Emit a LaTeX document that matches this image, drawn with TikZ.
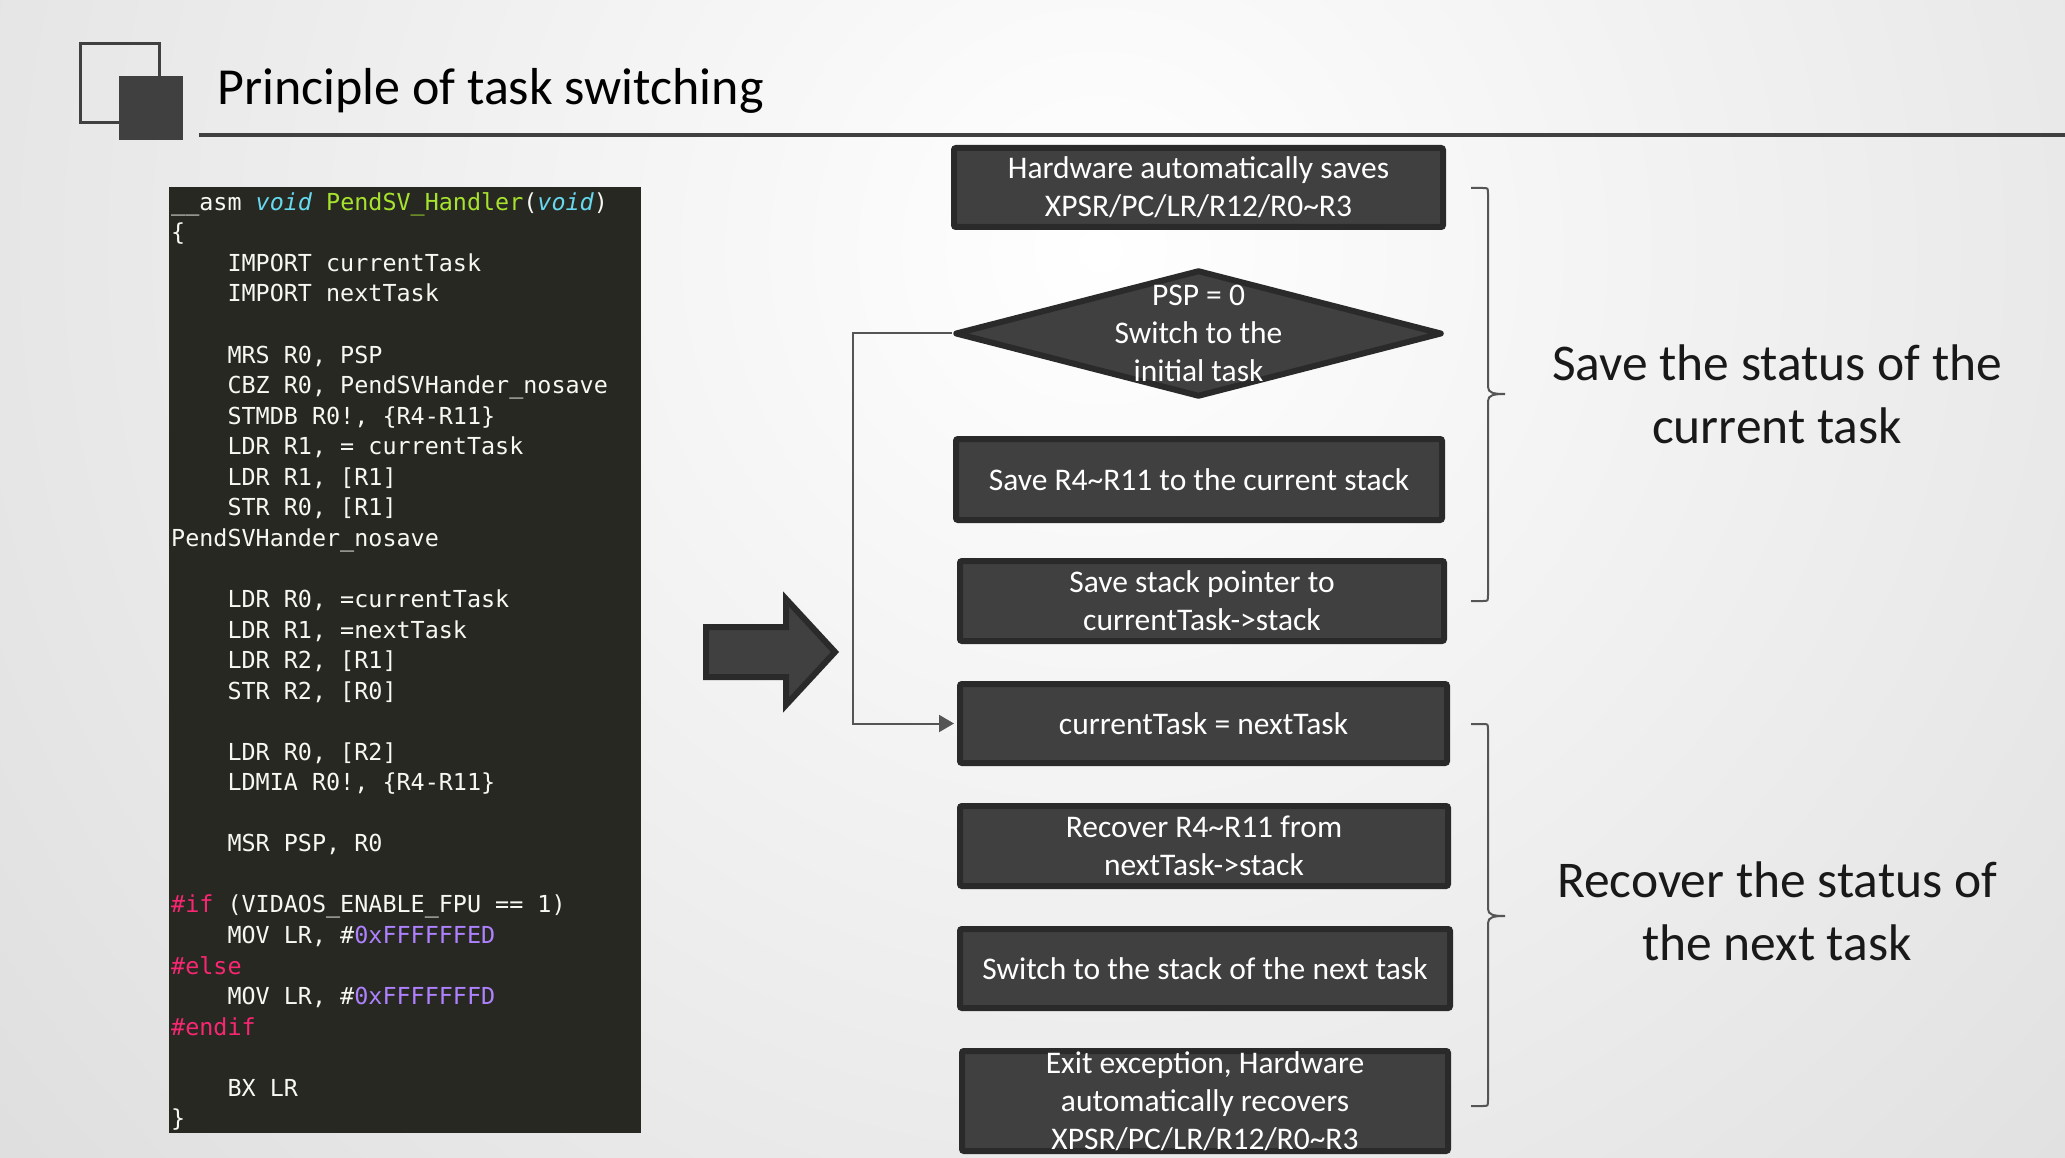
\documentclass[tikz,border=0pt]{standalone}
\usepackage{fontspec}
\setmainfont{Carlito}
\newfontfamily\codefont{DejaVu Sans Mono}
\usepackage{xcolor}
\usetikzlibrary{positioning, arrows.meta, shapes.geometric}

\definecolor{slate}{HTML}{404040}
\definecolor{rim}{HTML}{2A2A2A}
\definecolor{wire}{HTML}{555555}
\definecolor{monobg}{HTML}{272822}
\definecolor{monotxt}{HTML}{F8F8F2}
\definecolor{monokw}{HTML}{66D9EF}
\definecolor{monofn}{HTML}{A6E22E}
\definecolor{monopp}{HTML}{F92672}
\definecolor{mononum}{HTML}{AE81FF}

\newcommand{\ind}{\hphantom{0000}}

\begin{document}
\begin{tikzpicture}[x=1pt,y=-1pt,>=Stealth,
  stepbox/.style={draw=rim,fill=slate,line width=6pt,rounded corners=2pt,
        minimum width=489pt,minimum height=79pt,inner sep=0pt,
        text=white,align=center,font=\fontsize{31.5}{38}\selectfont},
  decision/.style={diamond,draw=rim,fill=slate,line width=6pt,line join=round,
        minimum width=487pt,minimum height=127pt,inner sep=0pt},
  lbl/.style={text=white,align=center,inner sep=0pt,
        font=\fontsize{31.5}{38}\selectfont},
  codetxt/.style={text=monotxt,align=left,inner sep=0pt,
        font=\codefont\fontsize{23.4}{30.55}\selectfont\frenchspacing},
  sidetxt/.style={align=center,inner sep=0pt,text=black!90,
        font=\fontsize{51.5}{63}\selectfont},
  curly/.style={draw=wire,line width=2pt},
  link/.style={draw=wire,line width=2pt,-{Triangle[length=15pt,width=17pt]}}]
  \useasboundingbox (0,0) rectangle (2065,1158);
  % backdrop
  \begin{scope}
    \clip (0,0) rectangle (2065,1158);
    \shade[inner color=white,outer color=black!24] (1100,250) circle[radius=2700pt];
  \end{scope}
  % heading
  \draw[slate,line width=3pt] (80.5,43.5) rectangle (159.5,122.5);
  \fill[slate] (119,76) rectangle (183,140);
  \draw[slate,line width=4pt] (199,135) -- (2065,135);
  \node[anchor=base west,inner sep=0pt,font=\fontsize{52}{62}\selectfont]
       (title) at (217,105) {Principle of task switching};
  % code listing
  \node[fill=monobg,minimum width=472pt,minimum height=946pt,inner sep=0pt]
       (panel) at (405,660) {};
  \node[codetxt,anchor=north west] (asm) at (171,192.2) {%
\_\_asm {\color{monokw}\itshape void} {\color{monofn}PendSV\_Handler}({\color{monokw}\itshape void})\\
\{\\
\ind IMPORT currentTask\\
\ind IMPORT nextTask\\
\mbox{}\\
\ind MRS R0, PSP\\
\ind CBZ R0, PendSVHander\_nosave\\
\ind STMDB R0!, \{R4-R11\}\\
\ind LDR R1, = currentTask\\
\ind LDR R1, [R1]\\
\ind STR R0, [R1]\\
PendSVHander\_nosave\\
\mbox{}\\
\ind LDR R0, =currentTask\\
\ind LDR R1, =nextTask\\
\ind LDR R2, [R1]\\
\ind STR R2, [R0]\\
\mbox{}\\
\ind LDR R0, [R2]\\
\ind LDMIA R0!, \{R4-R11\}\\
\mbox{}\\
\ind MSR PSP, R0\\
\mbox{}\\
{\color{monopp}\#if} (VIDAOS\_ENABLE\_FPU == 1)\\
\ind MOV LR, \#{\color{mononum}0xFFFFFFED}\\
{\color{monopp}\#else}\\
\ind MOV LR, \#{\color{mononum}0xFFFFFFFD}\\
{\color{monopp}\#endif}\\
\mbox{}\\
\ind BX LR\\
\}};
  % big arrow
  \draw[fill=slate,draw=rim,line width=6pt] (706,627) -- (786,627) -- (786,599)
       -- (835,652) -- (786,705) -- (786,677) -- (706,677) -- cycle;
  % flow steps
  \node[stepbox] (hw) at (1198.5,187.5)
       {Hardware automatically saves\\XPSR/PC/LR/R12/R0\textasciitilde R3};
  \node[decision,label={[lbl]center:{PSP = 0\\Switch to the\\initial task}}]
       (psp) at (1198.5,333.5) {};
  \node[stepbox,minimum width=486pt,minimum height=81pt] (sv) at (1199,479.5)
       {Save R4\textasciitilde R11 to the current stack};
  \node[stepbox,minimum width=484pt,minimum height=80pt] (sp) at (1202,601)
       {Save stack pointer to\\currentTask->stack};
  \node[stepbox,minimum width=487pt] (cn) at (1203.5,723.5)
       {currentTask = nextTask};
  \node[stepbox,minimum width=488pt,minimum height=80pt] (rc) at (1204,846)
       {Recover R4\textasciitilde R11 from\\nextTask->stack};
  \node[stepbox,minimum width=490pt] (sw) at (1205,968.5)
       {Switch to the stack of the next task};
  \node[stepbox,minimum width=486pt,minimum height=100pt,
        label={[lbl]center:{Exit exception, Hardware\\automatically recovers\\XPSR/PC/LR/R12/R0\textasciitilde R3}}]
       (ex) at (1205,1101) {};
  % skip branch
  \draw[link,shorten >=3pt] (psp.west) -- ++(-99,0) |- (cn.west);
  % braces
  \draw[curly] (1471,188) -- (1483,188) .. controls (1488,188) .. (1488,194)
       -- (1488,387) .. controls (1488,393) and (1494,394) .. (1505,394)
       .. controls (1494,394) and (1488,395) .. (1488,401)
       -- (1488,595) .. controls (1488,601) .. (1483,601) -- (1471,601);
  \draw[curly] (1471,724) -- (1483,724) .. controls (1488,724) .. (1488,730)
       -- (1488,909) .. controls (1488,915) and (1494,916) .. (1505,916)
       .. controls (1494,916) and (1488,917) .. (1488,923)
       -- (1488,1100) .. controls (1488,1106) .. (1483,1106) -- (1471,1106);
  \node[sidetxt] (savenote) at (1777,394) {Save the status of the\\current task};
  \node[sidetxt] (recnote) at (1777,911) {Recover the status of\\the next task};
\end{tikzpicture}
\end{document}
